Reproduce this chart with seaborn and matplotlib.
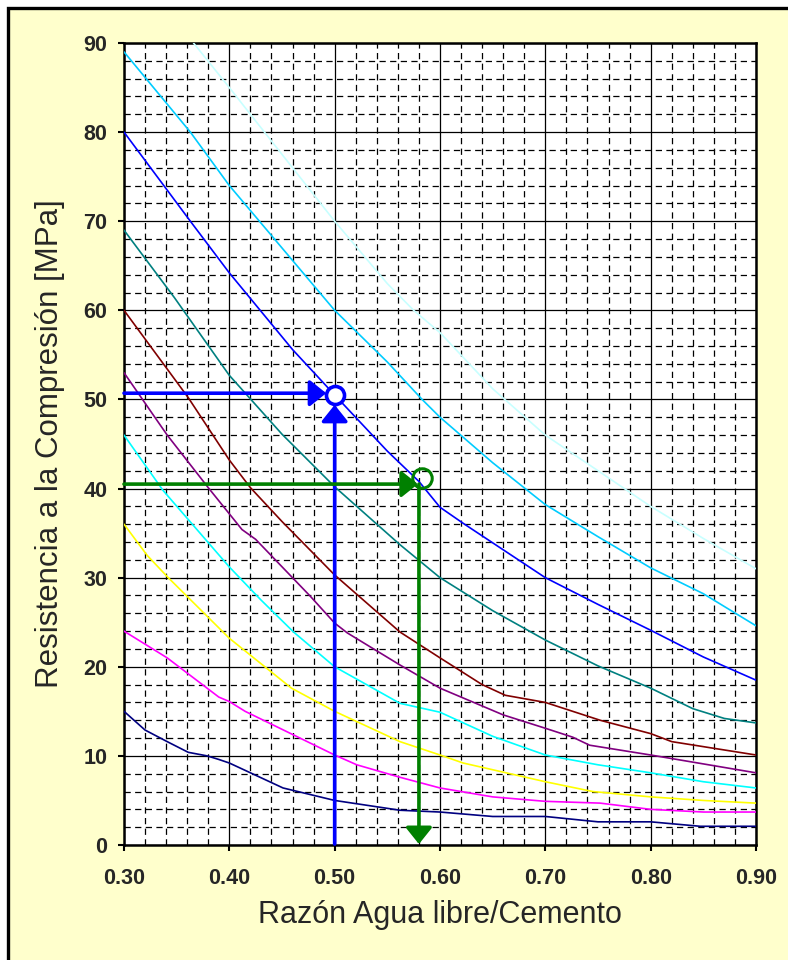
import matplotlib
matplotlib.use('Agg')
import matplotlib.pyplot as plt
import seaborn as sns
from matplotlib.patches import Rectangle
from matplotlib.ticker import MultipleLocator, FormatStrFormatter

# curves (water/cement ratio -> strength MPa)
x_pale = [0.366, 0.40, 0.45, 0.50, 0.55, 0.575, 0.60, 0.65, 0.70, 0.75,
          0.80, 0.85, 0.90]
y_pale = [90, 85, 77.5, 70, 63, 60, 57.5, 51.2, 46, 42, 38, 34.4, 31]

x_sky = [0.30, 0.363, 0.40, 0.45, 0.50, 0.55, 0.583, 0.60, 0.65, 0.70,
         0.75, 0.80, 0.85, 0.90]
y_sky = [89, 80, 74, 67, 60, 54.2, 50, 48, 42.9, 38.2, 34.6, 31.1, 28.2,
         24.6]

x_blue = [0.30, 0.363, 0.40, 0.46, 0.50, 0.55, 0.58, 0.60, 0.622, 0.70,
          0.75, 0.80, 0.85, 0.90]
y_blue = [80, 70, 64.2, 55.6, 50.5, 44.2, 40.8, 37.9, 36.1, 30, 27, 24.1,
          21.1, 18.5]

x_teal = [0.30, 0.348, 0.40, 0.45, 0.50, 0.562, 0.60, 0.65, 0.70, 0.75,
          0.80, 0.84, 0.87, 0.90]
y_teal = [69, 61.4, 52.7, 46.1, 40.2, 33.7, 30, 26.3, 23, 20.1, 17.6, 15.3,
          14.2, 13.7]

x_red = [0.30, 0.361, 0.40, 0.42, 0.45, 0.50, 0.562, 0.60, 0.64, 0.662,
         0.70, 0.752, 0.80, 0.82, 0.90]
y_red = [60, 50.2, 43.2, 40.1, 36.3, 30.3, 23.9, 21, 18, 16.8, 16, 14, 12.5,
         11.6, 10.1]

x_purple = [0.30, 0.341, 0.38, 0.412, 0.425, 0.477, 0.50, 0.512, 0.562,
            0.60, 0.66, 0.70, 0.726, 0.742, 0.80, 0.90]
y_purple = [53, 46, 40.1, 35.4, 34.3, 27.9, 24.9, 23.8, 20.2, 17.6, 14.6,
            13.1, 12.1, 11.2, 10.1, 8.1]

x_cyan = [0.30, 0.337, 0.40, 0.43, 0.461, 0.50, 0.562, 0.60, 0.65, 0.70,
          0.75, 0.80, 0.85, 0.90]
y_cyan = [46, 39.8, 31.2, 27.5, 23.9, 20, 15.9, 14.9, 12.2, 10.1, 9, 8.1,
          7.1, 6.4]

x_yellow = [0.30, 0.322, 0.342, 0.40, 0.459, 0.50, 0.562, 0.60, 0.622,
            0.70, 0.745, 0.80, 0.85, 0.90]
y_yellow = [36, 32.5, 30, 23.2, 17.6, 15, 11.6, 10.1, 9.2, 7.1, 6, 5.4,
            5.0, 4.7]

x_magenta = [0.30, 0.341, 0.39, 0.40, 0.415, 0.50, 0.521, 0.562, 0.581,
             0.60, 0.65, 0.70, 0.752, 0.80, 0.85, 0.90]
y_magenta = [24, 21, 16.6, 16.1, 15, 10.1, 9, 7.6, 7.0, 6.4, 5.4, 4.9, 4.7,
             4.0, 3.7, 3.7]

x_navy = [0.30, 0.32, 0.341, 0.361, 0.379, 0.39, 0.40, 0.451, 0.50, 0.562,
          0.60, 0.65, 0.70, 0.75, 0.80, 0.847, 0.90]
y_navy = [15, 12.9, 11.6, 10.4, 10.0, 9.6, 9.2, 6.4, 5.0, 3.9, 3.7, 3.2,
          3.2, 2.6, 2.6, 2.1, 2.1]

# worked examples drawn with arrows
blue_ratio, blue_strength = 0.50, 50.5
green_ratio, green_strength = 0.58, 40.5

x_ticks = [0.30, 0.40, 0.50, 0.60, 0.70, 0.80, 0.90]
y_ticks = [0, 10, 20, 30, 40, 50, 60, 70, 80, 90]

HEAD = '-|>,head_length=0.5,head_width=0.4'


def arrow(ax, start, end, color):
    ax.annotate('', xy=end, xytext=start,
                arrowprops=dict(arrowstyle=HEAD, color=color, lw=2.6,
                                mutation_scale=20, shrinkA=0, shrinkB=0),
                zorder=5)


def main():
    sns.set_style('white')
    plt.rcParams['font.family'] = ['Liberation Sans', 'DejaVu Sans']

    fig = plt.figure(figsize=(7.88, 9.6), dpi=100, facecolor='white')
    frame = Rectangle((8 / 788, -0.1), 1.2, 1.1 - 8 / 960,
                      transform=fig.transFigure, facecolor='#FFFFCC',
                      edgecolor='black', linewidth=2.4, zorder=-5)
    fig.patches.append(frame)

    ax = fig.add_axes([124 / 788, 115 / 960, 632 / 788, 802 / 960])
    ax.set_zorder(2)
    ax.set_facecolor('white')

    curves = [
        (x_pale, y_pale, '#C8FFFF'),
        (x_sky, y_sky, '#00CCFF'),
        (x_blue, y_blue, '#0000FF'),
        (x_teal, y_teal, '#008080'),
        (x_red, y_red, '#800000'),
        (x_purple, y_purple, '#800080'),
        (x_cyan, y_cyan, '#00FFFF'),
        (x_yellow, y_yellow, '#FFFF00'),
        (x_magenta, y_magenta, '#FF00FF'),
        (x_navy, y_navy, '#000080'),
    ]
    for xs, ys, col in curves:
        sns.lineplot(x=xs, y=ys, color=col, linewidth=1.2, ax=ax,
                     zorder=3, clip_on=True)

    # blue example: 0.50 -> 50 MPa
    arrow(ax, (0.30, blue_strength + 0.2),
          (blue_ratio - 0.008, blue_strength + 0.2), '#0000FF')
    arrow(ax, (blue_ratio, 0.1), (blue_ratio, blue_strength - 1.1),
          '#0000FF')
    ax.plot([blue_ratio], [blue_strength], 'o', ms=13, mfc='white',
            mec='#0000FF', mew=2.6, zorder=6)

    # green example: 40 MPa -> 0.58
    arrow(ax, (0.30, green_strength), (green_ratio - 0.001, green_strength),
          '#008000')
    arrow(ax, (green_ratio, green_strength), (green_ratio, 0.1), '#008000')
    ax.plot([green_ratio + 0.003], [green_strength + 0.7], 'o', ms=14,
            mfc='none', mec='#008000', mew=2.2, zorder=6)

    ax.set_xlim(0.30, 0.90)
    ax.set_ylim(0, 90)
    ax.set_xticks(x_ticks)
    ax.set_yticks(y_ticks)
    ax.xaxis.set_major_formatter(FormatStrFormatter('%.2f'))
    ax.xaxis.set_minor_locator(MultipleLocator(0.02))
    ax.yaxis.set_minor_locator(MultipleLocator(2))

    ax.grid(which='major', color='black', linewidth=0.9, zorder=1)
    ax.grid(which='minor', color='black', linewidth=0.9,
            linestyle=(0, (5, 3.5)), zorder=1)
    ax.set_axisbelow(True)

    for side in ['left', 'bottom', 'right', 'top']:
        ax.spines[side].set_visible(True)
        ax.spines[side].set_color('black')
        ax.spines[side].set_linewidth(1.8)

    ax.tick_params(which='major', direction='out', length=4, width=1.5,
                   color='black', left=True, bottom=True)
    ax.tick_params(axis='x', pad=12.5)
    ax.tick_params(axis='y', pad=8)
    ax.tick_params(which='minor', length=0)
    for lab in ax.get_xticklabels() + ax.get_yticklabels():
        lab.set_fontsize(15.5)
        lab.set_fontweight('bold')

    ax.set_xlabel('Razón Agua libre/Cemento', fontsize=22)
    ax.set_ylabel('Resistencia a la Compresión [MPa]', fontsize=22.5)
    ax.xaxis.set_label_coords(0.5, -0.069)
    ax.yaxis.set_label_coords(-0.093, 0.5)

    plt.savefig('out.png', dpi=100)


if __name__ == '__main__':
    main()
